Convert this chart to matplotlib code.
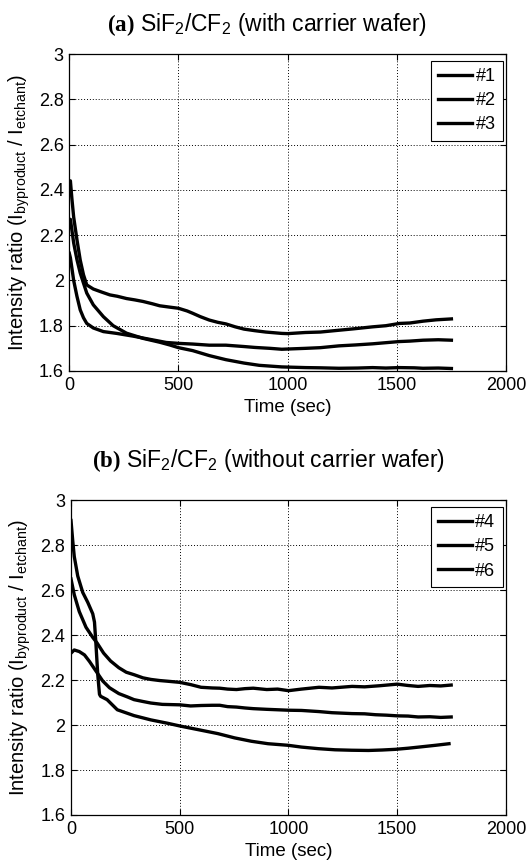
import matplotlib
matplotlib.use("Agg")
import matplotlib.pyplot as plt
from matplotlib.ticker import FuncFormatter, MultipleLocator

# ---- data ----
# (a) with carrier wafer
t_a1 = [0, 5, 12, 20, 35, 50, 65, 80, 110, 150, 186, 220, 262, 300, 338, 380, 414, 460,
        500, 540, 565, 600, 641, 680, 717, 760, 800, 850, 900, 973, 1000, 1081, 1150,
        1235, 1300, 1389, 1450, 1512, 1560, 1620, 1680, 1750]
v_a1 = [2.40, 2.44, 2.36, 2.28, 2.18, 2.09, 2.025, 1.98, 1.962, 1.948, 1.936, 1.93, 1.92,
        1.914, 1.907, 1.897, 1.888, 1.882, 1.877, 1.865, 1.855, 1.84, 1.825, 1.815, 1.808,
        1.795, 1.785, 1.778, 1.772, 1.766, 1.765, 1.77, 1.772, 1.78, 1.786, 1.795, 1.80,
        1.81, 1.812, 1.82, 1.826, 1.83]

t_a2 = [0, 5, 20, 35, 50, 65, 80, 110, 156, 217, 292, 368, 444, 500, 565, 641, 717, 800,
        850, 920, 973, 1081, 1150, 1235, 1310, 1389, 1450, 1512, 1560, 1620, 1690, 1750]
v_a2 = [2.12, 2.10, 2.00, 1.93, 1.87, 1.835, 1.81, 1.79, 1.774, 1.766, 1.754, 1.74, 1.726,
        1.722, 1.719, 1.714, 1.714, 1.708, 1.704, 1.70, 1.696, 1.70, 1.703, 1.711, 1.715,
        1.72, 1.725, 1.73, 1.732, 1.736, 1.738, 1.736]

t_a3 = [0, 5, 20, 35, 50, 65, 80, 110, 156, 201, 262, 338, 414, 460, 500, 565, 641, 717,
        800, 870, 973, 1081, 1150, 1235, 1320, 1389, 1450, 1512, 1580, 1620, 1690, 1750]
v_a3 = [2.25, 2.27, 2.166, 2.092, 2.033, 1.988, 1.944, 1.892, 1.84, 1.80, 1.767, 1.744,
        1.727, 1.715, 1.703, 1.69, 1.668, 1.65, 1.635, 1.625, 1.618, 1.615, 1.614, 1.612,
        1.613, 1.615, 1.613, 1.615, 1.614, 1.612, 1.613, 1.611]

# (b) without carrier wafer
t_b4 = [0, 15, 38, 69, 100, 120, 150, 182, 220, 254, 290, 331, 367, 408, 444, 500, 550,
        598, 650, 684, 720, 761, 800, 838, 900, 950, 1000, 1060, 1140, 1200, 1292, 1350,
        1420, 1500, 1550, 1596, 1650, 1700, 1748]
v_b4 = [2.65, 2.58, 2.505, 2.435, 2.39, 2.365, 2.32, 2.285, 2.255, 2.235, 2.224, 2.21,
        2.203, 2.198, 2.195, 2.19, 2.18, 2.168, 2.165, 2.164, 2.16, 2.158, 2.162, 2.164,
        2.158, 2.16, 2.153, 2.16, 2.168, 2.165, 2.172, 2.17, 2.175, 2.182, 2.176, 2.172,
        2.176, 2.174, 2.178]

t_b5 = [0, 15, 38, 62, 85, 115, 146, 177, 220, 260, 290, 330, 367, 420, 500, 550, 598,
        650, 684, 720, 761, 800, 838, 900, 950, 1000, 1060, 1140, 1200, 1292, 1350, 1400,
        1450, 1500, 1550, 1596, 1650, 1700, 1748]
v_b5 = [2.32, 2.334, 2.327, 2.312, 2.283, 2.24, 2.196, 2.166, 2.14, 2.125, 2.113, 2.105,
        2.098, 2.092, 2.09, 2.085, 2.087, 2.088, 2.088, 2.082, 2.08, 2.076, 2.073, 2.07,
        2.068, 2.066, 2.065, 2.06, 2.055, 2.051, 2.05, 2.046, 2.044, 2.041, 2.04, 2.036,
        2.037, 2.034, 2.036]

t_b6 = [0, 8, 15, 31, 54, 77, 100, 108, 115, 123, 131, 136, 166, 213, 290, 367, 444, 505,
        598, 675, 752, 829, 906, 998, 1060, 1137, 1214, 1290, 1368, 1430, 1491, 1550, 1599,
        1676, 1738]
v_b6 = [2.91, 2.82, 2.75, 2.663, 2.59, 2.546, 2.495, 2.458, 2.356, 2.225, 2.137, 2.128,
        2.113, 2.068, 2.042, 2.023, 2.008, 1.995, 1.977, 1.962, 1.943, 1.928, 1.917, 1.910,
        1.902, 1.895, 1.890, 1.888, 1.887, 1.889, 1.892, 1.897, 1.902, 1.910, 1.917]

titles = [r"$\mathbf{(a)}$ SiF$_2$/CF$_2$ (with carrier wafer)",
          r"$\mathbf{(b)}$ SiF$_2$/CF$_2$ (without carrier wafer)"]
labels_a = ["#1", "#2", "#3"]
labels_b = ["#4", "#5", "#6"]

plt.rcParams["font.family"] = ["Liberation Sans", "DejaVu Sans"]
plt.rcParams["mathtext.fontset"] = "custom"
plt.rcParams["mathtext.rm"] = "Liberation Sans"
plt.rcParams["mathtext.it"] = "Liberation Sans:italic"
plt.rcParams["mathtext.bf"] = "Liberation Serif:bold"

fig = plt.figure(figsize=(5.29, 8.67), dpi=100)
ax_a = fig.add_axes([0.131, 0.5721, 0.8255, 0.3656])
ax_b = fig.add_axes([0.1342, 0.0600, 0.8223, 0.3630])

fmt = FuncFormatter(lambda v, p: "%g" % round(v, 2))

panels = [
    (ax_a, [(t_a1, v_a1), (t_a2, v_a2), (t_a3, v_a3)], labels_a),
    (ax_b, [(t_b4, v_b4), (t_b5, v_b5), (t_b6, v_b6)], labels_b),
]
for ax, series, labels in panels:
    for (t, v), lab in zip(series, labels):
        ax.plot(t, v, color="black", lw=2.4, label=lab)
    ax.set_xlim(0, 2000)
    ax.set_ylim(1.6, 3.0)
    ax.xaxis.set_major_locator(MultipleLocator(500))
    ax.yaxis.set_major_locator(MultipleLocator(0.2))
    ax.yaxis.set_major_formatter(fmt)
    ax.grid(True, color="black", linestyle=(0, (1, 2)), linewidth=0.7)
    ax.tick_params(direction="in", length=4, width=0.8, labelsize=13,
                   top=True, right=True, pad=4)
    for sp in ax.spines.values():
        sp.set_linewidth(0.9)
    ax.set_xlabel("Time (sec)", fontsize=13.5, labelpad=4)
    ax.set_ylabel(r"Intensity ratio (I$_{\mathrm{byproduct}}$ / I$_{\mathrm{etchant}}$)",
                  fontsize=14.5, labelpad=5)
    leg = ax.legend(loc="upper right", bbox_to_anchor=(0.9925, 0.979), borderaxespad=0,
                    fontsize=13, fancybox=False, framealpha=1, edgecolor="black",
                    borderpad=0.4, handlelength=1.85, handletextpad=0.2,
                    labelspacing=0.4)
    leg.get_frame().set_linewidth(0.8)

fig.text(0.505, 0.9642, titles[0], ha="center", va="baseline", fontsize=16.5)
fig.text(0.508, 0.4614, titles[1], ha="center", va="baseline", fontsize=16.5)

fig.savefig("out.png", dpi=100)
